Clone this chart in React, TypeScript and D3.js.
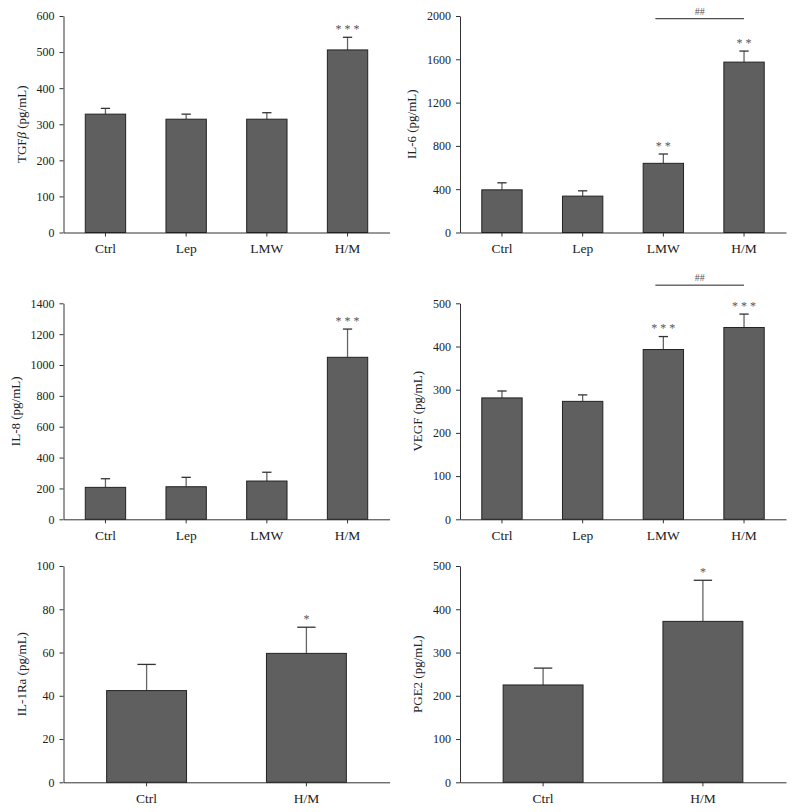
import React, { useEffect, useRef } from "react";
import * as d3 from "d3";

// ---------- data ----------
const categories4 = ["Ctrl", "Lep", "LMW", "H/M"];
const categories2 = ["Ctrl", "H/M"];

const tgfbMean = [328, 314, 314, 506];
const tgfbErr = [16, 14, 18, 35];
const tgfbStars = ["", "", "", "***"];
const tgfbTicks = [0, 100, 200, 300, 400, 500, 600];

const il6Mean = [394, 336, 639, 1574];
const il6Err = [65, 49, 86, 102];
const il6Stars = ["", "", "**", "**"];
const il6Ticks = [0, 400, 800, 1200, 1600, 2000];
const il6Bracket = { from: "LMW", to: "H/M", value: 1975, label: "##" };

const il8Mean = [207, 211, 248, 1050];
const il8Err = [56, 61, 57, 183];
const il8Stars = ["", "", "", "***"];
const il8Ticks = [0, 200, 400, 600, 800, 1000, 1200, 1400];

const vegfMean = [281, 273, 393, 444];
const vegfErr = [16, 15, 30, 31];
const vegfStars = ["", "", "***", "***"];
const vegfTicks = [0, 100, 200, 300, 400, 500];
const vegfBracket = { from: "LMW", to: "H/M", value: 542, label: "##" };

const il1raMean = [42.4, 59.6];
const il1raErr = [12.1, 12.1];
const il1raStars = ["", "*"];
const il1raTicks = [0, 20, 40, 60, 80, 100];

const pge2Mean = [225, 372];
const pge2Err = [39, 95];
const pge2Stars = ["", "*"];
const pge2Ticks = [0, 100, 200, 300, 400, 500];

type Panel = {
  label: string;
  beta?: boolean;
  cats: string[];
  mean: number[];
  err: number[];
  stars: string[];
  ticks: number[];
  bracket?: { from: string; to: string; value: number; label: string };
  row: number;
  col: number;
};

const panels: Panel[] = [
  { label: "TGF", beta: true, cats: categories4, mean: tgfbMean, err: tgfbErr, stars: tgfbStars, ticks: tgfbTicks, row: 0, col: 0 },
  { label: "IL-6", cats: categories4, mean: il6Mean, err: il6Err, stars: il6Stars, ticks: il6Ticks, bracket: il6Bracket, row: 0, col: 1 },
  { label: "IL-8", cats: categories4, mean: il8Mean, err: il8Err, stars: il8Stars, ticks: il8Ticks, row: 1, col: 0 },
  { label: "VEGF", cats: categories4, mean: vegfMean, err: vegfErr, stars: vegfStars, ticks: vegfTicks, bracket: vegfBracket, row: 1, col: 1 },
  { label: "IL-1Ra", cats: categories2, mean: il1raMean, err: il1raErr, stars: il1raStars, ticks: il1raTicks, row: 2, col: 0 },
  { label: "PGE2", cats: categories2, mean: pge2Mean, err: pge2Err, stars: pge2Stars, ticks: pge2Ticks, row: 2, col: 1 },
];

// ---------- layout ----------
const W = 794;
const H = 812;
const rowTop = [16, 303.3, 566];
const rowBottom = [232.5, 519.3, 782.3];
const colAxis = [63.5, 460];
const plotWidth = 326;
const FONT = '"Liberation Serif", "Times New Roman", serif';
const TEXT = "#222";
const AXIS = "#333";

export default function App() {
  const ref = useRef<SVGSVGElement | null>(null);

  useEffect(() => {
    const svg = d3.select(ref.current);
    svg.selectAll("*").remove();

    panels.forEach((p) => {
      const x0 = colAxis[p.col];
      const top = rowTop[p.row];
      const bottom = rowBottom[p.row];
      const yMax = p.ticks[p.ticks.length - 1];

      const x = d3
        .scaleBand<string>()
        .domain(p.cats)
        .range([x0, x0 + plotWidth])
        .paddingInner(0.5)
        .paddingOuter(0.27);
      const y = d3.scaleLinear().domain([0, yMax]).range([bottom, top]);

      const g = svg.append("g");

      // y axis
      const ya = g
        .append("g")
        .attr("transform", `translate(${x0},0)`)
        .call(
          d3
            .axisLeft(y)
            .tickValues(p.ticks)
            .tickSize(4)
            .tickSizeOuter(0)
            .tickPadding(5)
            .tickFormat(d3.format("d") as any)
        );
      ya.select(".domain").attr("stroke", AXIS);
      ya.selectAll(".tick line").attr("stroke", AXIS);
      ya.selectAll(".tick text")
        .attr("fill", TEXT)
        .style("font-family", FONT)
        .style("font-size", "12px");

      // x axis
      const xa = g
        .append("g")
        .attr("transform", `translate(0,${bottom})`)
        .call(d3.axisBottom(x).tickSize(4).tickSizeOuter(0).tickPadding(7));
      xa.select(".domain").attr("stroke", AXIS);
      xa.selectAll(".tick line").attr("stroke", AXIS);
      xa.selectAll(".tick text")
        .attr("fill", TEXT)
        .style("font-family", FONT)
        .style("font-size", "13.5px");

      // y label
      const maxDigits = d3.max(p.ticks, (t) => String(t).length) || 3;
      const lx = x0 - 9 - maxDigits * 6 - 11;
      const cy = (top + bottom) / 2;
      const t = g
        .append("text")
        .attr("transform", `translate(${lx},${cy}) rotate(-90)`)
        .attr("text-anchor", "middle")
        .attr("fill", TEXT)
        .style("font-family", FONT)
        .style("font-size", "13px");
      t.append("tspan").text(p.label);
      if (p.beta) t.append("tspan").style("font-style", "italic").text("β");
      t.append("tspan").text(" (pg/mL)");

      const bw = x.bandwidth();
      const capW = bw * 0.23;
      const data = p.cats.map((c, i) => ({ c, m: p.mean[i], e: p.err[i], s: p.stars[i] }));

      // error bars
      data.forEach((d) => {
        const cx = (x(d.c) as number) + bw / 2;
        g.append("line")
          .attr("x1", cx)
          .attr("x2", cx)
          .attr("y1", y(d.m))
          .attr("y2", y(d.m + d.e))
          .attr("stroke", "#666")
          .attr("stroke-width", 1.3);
        g.append("line")
          .attr("x1", cx - capW / 2)
          .attr("x2", cx + capW / 2)
          .attr("y1", y(d.m + d.e))
          .attr("y2", y(d.m + d.e))
          .attr("stroke", "#333")
          .attr("stroke-width", 1.3);
      });

      // bars
      g.selectAll("rect.bar")
        .data(data)
        .enter()
        .append("rect")
        .attr("x", (d) => x(d.c) as number)
        .attr("y", (d) => y(d.m))
        .attr("width", bw)
        .attr("height", (d) => bottom - y(d.m))
        .attr("fill", "#5f5f5f")
        .attr("stroke", "#222")
        .attr("stroke-width", 1);

      // stars
      data.forEach((d) => {
        if (!d.s) return;
        const cx = (x(d.c) as number) + bw / 2;
        g.append("text")
          .attr("x", cx)
          .attr("y", y(d.m + d.e) + 1)
          .attr("text-anchor", "middle")
          .attr("fill", "#555")
          .style("font-family", FONT)
          .style("font-size", "12px")
          .attr("dy", "-0.45em")
          .text(d.s.split("").join(" "));
      });

      // bracket
      if (p.bracket) {
        const b = p.bracket;
        const bx1 = (x(b.from) as number) + bw / 2 - 8;
        const bx2 = (x(b.to) as number) + bw / 2;
        const by = y(b.value);
        g.append("line")
          .attr("x1", bx1)
          .attr("x2", bx2)
          .attr("y1", by)
          .attr("y2", by)
          .attr("stroke", "#222")
          .attr("stroke-width", 1);
        g.append("text")
          .attr("x", (bx1 + bx2) / 2)
          .attr("y", by - 4)
          .attr("text-anchor", "middle")
          .attr("fill", "#555")
          .style("font-family", FONT)
          .style("font-size", "10px")
          .text(b.label);
      }
    });
  }, []);

  return (
    <svg
      ref={ref}
      width={W}
      height={H}
      style={{ position: "absolute", left: 0, top: 0, background: "#fff" }}
    />
  );
}
